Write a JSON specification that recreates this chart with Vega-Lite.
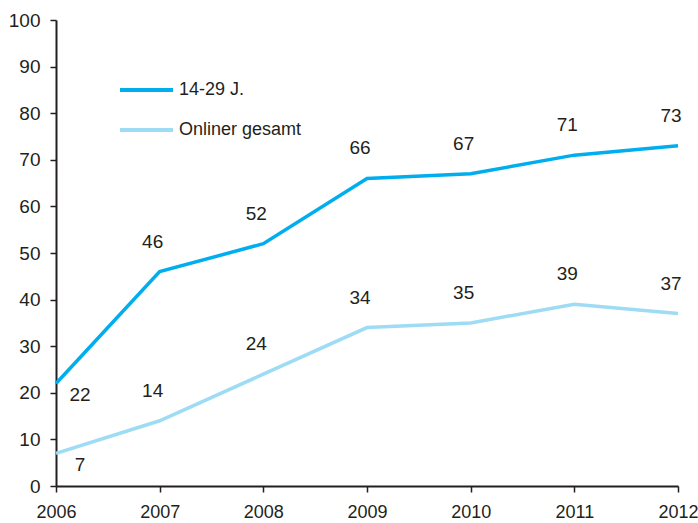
{
  "$schema": "https://vega.github.io/schema/vega-lite/v6.json",
  "width": 622,
  "height": 466,
  "autosize": {"type": "none"},
  "padding": {"left": 56, "top": 20, "right": 20, "bottom": 37},
  "background": "white",
  "config": {
    "view": {"stroke": null},
    "font": "Liberation Sans",
    "axis": {
      "labelFont": "Liberation Sans",
      "labelFontSize": 19,
      "labelColor": "#231f20",
      "domainColor": "#231f20",
      "domainWidth": 2,
      "tickColor": "#231f20",
      "tickWidth": 1.5,
      "tickSize": 6,
      "grid": false,
      "title": null
    }
  },
  "data": {
    "values": [
      {"year": 2006, "value": 22, "series": "14-29 J."},
      {"year": 2007, "value": 46, "series": "14-29 J."},
      {"year": 2008, "value": 52, "series": "14-29 J."},
      {"year": 2009, "value": 66, "series": "14-29 J."},
      {"year": 2010, "value": 67, "series": "14-29 J."},
      {"year": 2011, "value": 71, "series": "14-29 J."},
      {"year": 2012, "value": 73, "series": "14-29 J."},
      {"year": 2006, "value": 7, "series": "Onliner gesamt"},
      {"year": 2007, "value": 14, "series": "Onliner gesamt"},
      {"year": 2008, "value": 24, "series": "Onliner gesamt"},
      {"year": 2009, "value": 34, "series": "Onliner gesamt"},
      {"year": 2010, "value": 35, "series": "Onliner gesamt"},
      {"year": 2011, "value": 39, "series": "Onliner gesamt"},
      {"year": 2012, "value": 37, "series": "Onliner gesamt"}
    ]
  },
  "encoding": {
    "x": {
      "field": "year",
      "type": "quantitative",
      "scale": {"domain": [2006, 2012], "nice": false, "zero": false},
      "axis": {"format": "d", "values": [2006, 2007, 2008, 2009, 2010, 2011, 2012], "labelPadding": 11, "labelFlush": false, "labelFontSize": 18}
    },
    "y": {
      "field": "value",
      "type": "quantitative",
      "scale": {"domain": [0, 100], "nice": false},
      "axis": {"values": [0, 10, 20, 30, 40, 50, 60, 70, 80, 90, 100], "labelPadding": 10}
    }
  },
  "layer": [
    {
      "mark": {"type": "line", "strokeWidth": 3.5, "clip": false},
      "encoding": {
        "color": {
          "field": "series",
          "type": "nominal",
          "scale": {"domain": ["14-29 J.", "Onliner gesamt"], "range": ["#00aeef", "#9edcf5"]},
          "legend": {
            "title": null,
            "orient": "none",
            "legendX": 62,
            "legendY": 58,
            "padding": 0,
            "symbolType": "stroke",
            "symbolSize": 2809,
            "symbolStrokeWidth": 4,
            "labelFont": "Liberation Sans",
            "labelFontSize": 18,
            "labelColor": "#231f20",
            "labelOffset": 4,
            "rowPadding": 16,
            "clipHeight": 24
          }
        }
      }
    },
    {
      "transform": [{"filter": "datum.year > 2006"}],
      "mark": {"type": "text", "dx": -7, "dy": -30, "fontSize": 19, "color": "#231f20", "font": "Liberation Sans"},
      "encoding": {"text": {"field": "value", "type": "quantitative"}}
    },
    {
      "transform": [{"filter": "datum.year == 2006"}],
      "mark": {"type": "text", "dx": 24, "dy": 12, "fontSize": 19, "color": "#231f20", "font": "Liberation Sans"},
      "encoding": {"text": {"field": "value", "type": "quantitative"}}
    }
  ]
}
